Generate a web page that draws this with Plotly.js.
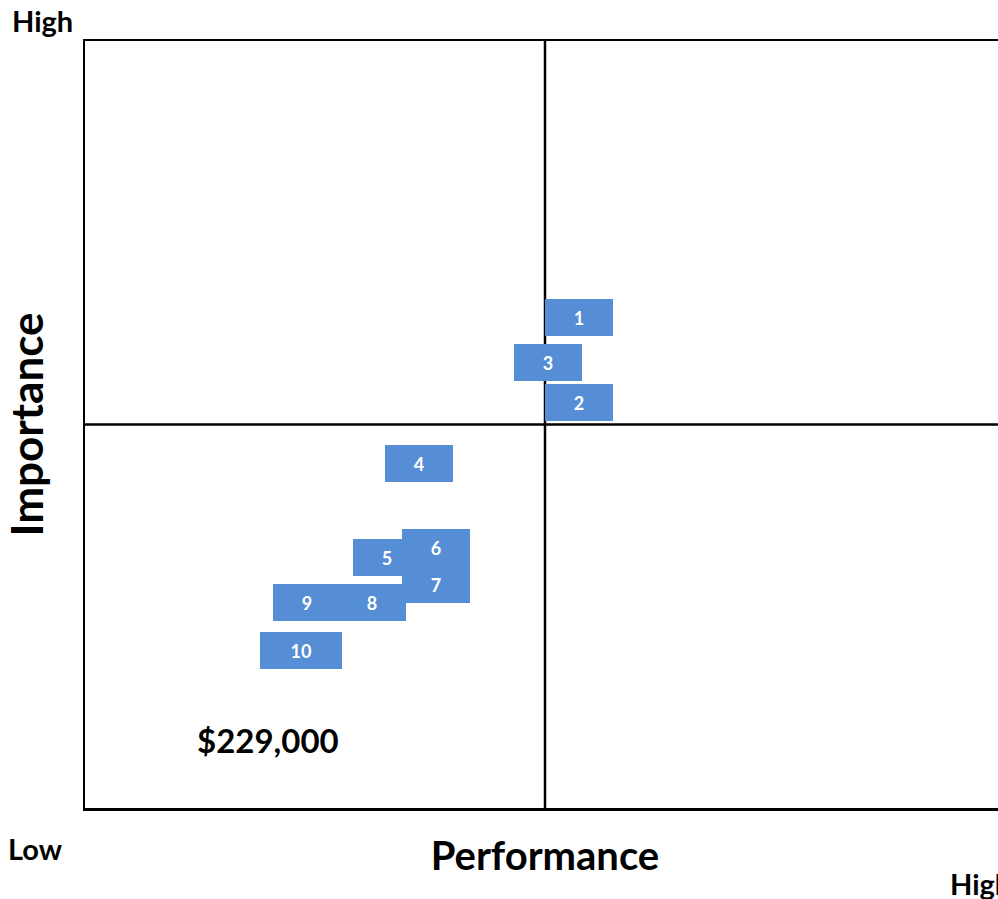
<!DOCTYPE html>
<html>
<head>
<meta charset="utf-8">
<script src="https://cdn.plot.ly/plotly-3.0.1.min.js"></script>
<style>
html,body{margin:0;padding:0;overflow:hidden;background:#fff;}
#chart{width:1010px;height:899px;}
</style>
</head>
<body>
<div id="chart"></div>
<script>
// Item labels and their positions (Performance, Importance) on a 0-10 scale
const labels = ["1","2","3","4","5","6","7","8","9","10"];
const performance = [5.37, 5.37, 5.03, 3.63, 3.28, 3.82, 3.82, 3.12, 2.41, 2.35];
const importance  = [6.40, 5.29, 5.81, 4.49, 3.27, 3.39, 2.92, 2.68, 2.68, 2.05];
const totalLabel = "$229,000";
const totalPos = [1.99, 0.89];
const midX = 5, midY = 5;

const FONT = "Lato, 'Open Sans', sans-serif";
const boxColor = "#558ED5";

// draw order so that overlaps match the reference
const order = [9, 8, 7, 4, 3, 2, 1, 0, 6, 5];
const annotations = order.map(i => ({
  x: performance[i], y: importance[i], xref: "x", yref: "y",
  text: "<b>" + labels[i] + "</b>",
  showarrow: false,
  bgcolor: boxColor,
  width: labels[i].length > 1 ? 82 : 68,
  height: 37,
  borderpad: 0, borderwidth: 0,
  font: {family: FONT, size: 18, color: "#ffffff"}
}));

annotations.push({
  x: totalPos[0], y: totalPos[1], xref: "x", yref: "y",
  text: "<b>" + totalLabel + "</b>", showarrow: false,
  font: {family: FONT, size: 33, color: "#000"}
});
// corner labels (paper coordinates)
annotations.push({x: -0.046, y: 1.0, xref: "paper", yref: "paper", xanchor: "center", yanchor: "middle", yshift: 21,
  text: "<b>High</b>", showarrow: false, font: {family: FONT, size: 29, color: "#000"}});
annotations.push({x: -0.054, y: 0, xref: "paper", yref: "paper", xanchor: "center", yanchor: "middle", yshift: -40,
  text: "<b>Low</b>", showarrow: false, font: {family: FONT, size: 29, color: "#000"}});
annotations.push({x: 0.938, y: 0, xref: "paper", yref: "paper", xanchor: "left", yanchor: "middle", yshift: -75,
  text: "<b>High</b>", showarrow: false, font: {family: FONT, size: 29, color: "#000"}});

const trace = {
  x: performance, y: importance, type: "scatter", mode: "markers",
  marker: {size: 1, color: "rgba(0,0,0,0)"}, hoverinfo: "skip", showlegend: false
};

const layout = {
  width: 1010, height: 899,
  margin: {l: 85, r: 5, t: 41, b: 91},
  paper_bgcolor: "#fff", plot_bgcolor: "#fff",
  showlegend: false,
  xaxis: {range: [0, 10], showgrid: false, zeroline: false, showticklabels: false, ticks: "",
    showline: true, mirror: true, linecolor: "#000", linewidth: 2.5,
    title: {text: "<b>Performance</b>", standoff: 33, font: {family: FONT, size: 40, color: "#000"}}},
  yaxis: {range: [0, 10], showgrid: false, zeroline: false, showticklabels: false, ticks: "",
    showline: true, mirror: true, linecolor: "#000", linewidth: 2.5,
    title: {text: "<b>Importance</b>", standoff: 26, font: {family: FONT, size: 44, color: "#000"}}},
  shapes: [
    {type: "line", xref: "x", yref: "paper", x0: midX, x1: midX, y0: 0, y1: 1, line: {color: "#000", width: 2.5}},
    {type: "line", xref: "paper", yref: "y", x0: 0, x1: 1, y0: midY, y1: midY, line: {color: "#000", width: 2.5}}
  ],
  annotations: annotations
};

Plotly.newPlot("chart", [trace], layout, {displayModeBar: false, staticPlot: true});
</script>
</body>
</html>
